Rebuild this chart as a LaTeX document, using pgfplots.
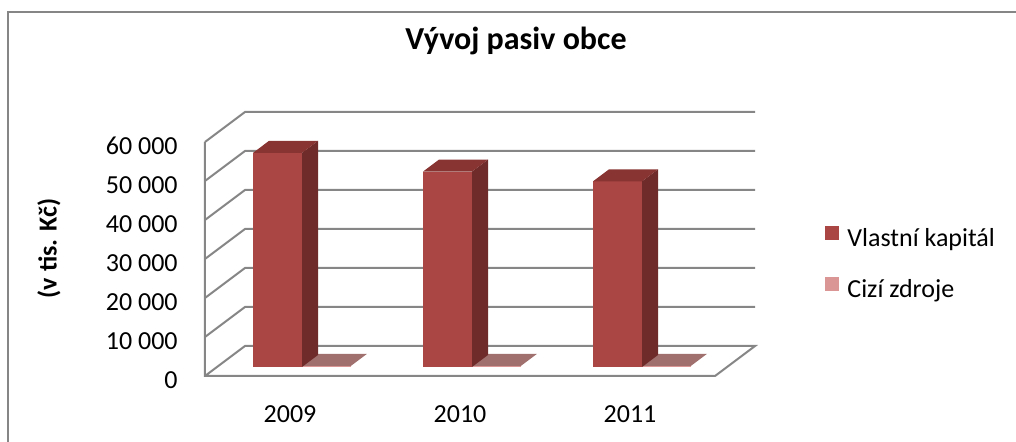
\documentclass[border=0pt]{standalone}
\usepackage{pgfplots}
\usepackage{pgfplotstable}
\pgfplotsset{compat=1.18}
\usepackage{fontspec}
\setmainfont{Carlito}
\definecolor{vkfront}{RGB}{170,70,67}
\definecolor{vkside}{RGB}{110,43,41}
\definecolor{vktop}{RGB}{135,52,50}
\definecolor{czfront}{RGB}{217,150,148}
\definecolor{cztop}{RGB}{160,112,110}
\definecolor{gridc}{RGB}{134,134,134}

\pgfplotstableread{
idx year vk cz
0 2009 54900 300
1 2010 50100 300
2 2011 47600 300
}\datatable

\begin{document}
\begin{tikzpicture}
\useasboundingbox (-102.5pt,-33pt) rectangle (405.5pt,188pt);
\draw[gridc, line width=1pt] (-98.5pt,-40pt) -- (-98.5pt,182pt) -- (410pt,182pt);
\begin{axis}[
  at={(0pt,0pt)}, anchor=south west,
  scale only axis, width=275pt, height=132pt,
  xmin=-0.5, xmax=2.7353, ymin=0, ymax=67692,
  enlargelimits=false, clip=false,
  scaled y ticks=false,
  axis line style={draw=none}, major tick length=0pt,
  xtick={0,1,2}, xticklabels={2009,2010,2011},
  ytick={0,10000,20000,30000,40000,50000,60000},
  yticklabels={0,10\ 000,20\ 000,30\ 000,40\ 000,50\ 000,60\ 000},
  /pgf/number format/assume math mode=true,
  tick label style={font=\fontsize{13}{15}\selectfont},
  xticklabel style={anchor=north, inner sep=0pt, yshift=-14.5pt},
  yticklabel style={anchor=east, inner sep=0pt, xshift=-13.5pt, yshift=-2pt},
  title={Vývoj pasiv obce},
  title style={at={(axis description cs:0.5655,1.1894)}, anchor=base, inner sep=0pt, font=\bfseries\fontsize{16}{19}\selectfont},
  ylabel={(v tis. Kč)},
  ylabel style={at={(axis description cs:-0.2836,0.483)}, anchor=center, inner sep=0pt, font=\bfseries\fontsize{13}{15}\selectfont},
  legend image code/.code={\fill[#1] (0pt,0pt) rectangle (7pt,7pt);},
  legend style={at={(axis description cs:1.1273,0.568)}, anchor=north west, draw=none, fill=none,
    inner sep=0pt, column sep=4pt, row sep=12.5pt,
    nodes={inner sep=0pt, text height=9pt, text depth=3pt},
    font=\fontsize{13}{15}\selectfont},
  legend cell align=left,
]
% back wall, left wall and floor
\addplot[gridc, line width=1pt, forget plot] coordinates {(-0.5,0) (-0.2647,7692) (2.7353,7692) (2.5,0) (-0.5,0) (-0.5,60000)};
\addplot[gridc, line width=1pt, forget plot] coordinates {(-0.5,10000) (-0.2647,17692) (2.7353,17692)};
\addplot[gridc, line width=1pt, forget plot] coordinates {(-0.5,20000) (-0.2647,27692) (2.7353,27692)};
\addplot[gridc, line width=1pt, forget plot] coordinates {(-0.5,30000) (-0.2647,37692) (2.7353,37692)};
\addplot[gridc, line width=1pt, forget plot] coordinates {(-0.5,40000) (-0.2647,47692) (2.7353,47692)};
\addplot[gridc, line width=1pt, forget plot] coordinates {(-0.5,50000) (-0.2647,57692) (2.7353,57692)};
\addplot[gridc, line width=1pt, forget plot] coordinates {(-0.5,60000) (-0.2647,67692) (2.7353,67692)};
% bars
\pgfplotsforeachungrouped \i in {0,1,2}{%
  \pgfplotstablegetelem{\i}{vk}\of\datatable \let\vkval\pgfplotsretval
  \pgfplotstablegetelem{\i}{cz}\of\datatable \let\czval\pgfplotsretval
  \pgfmathsetmacro\xa{\i-0.2176}%
  \pgfmathsetmacro\xb{\i+0.0706}%
  \pgfmathsetmacro\xc{\i+0.1647}%
  \pgfmathsetmacro\xd{\i-0.1235}%
  \pgfmathsetmacro\xe{\i+0.3588}%
  \pgfmathsetmacro\xf{\i+0.4529}%
  \edef\ya{\the\numexpr\vkval+2308\relax}%
  \edef\yb{\the\numexpr\vkval+5385\relax}%
  \edef\yc{\the\numexpr\czval+2308\relax}%
  \edef\yd{\the\numexpr\czval+5385\relax}%
  \edef\doplots{%
    \noexpand\addplot[fill=cztop, draw=none, forget plot] coordinates {(\xb,\yc) (\xe,\yc) (\xf,\yd) (\xc,\yd)};
    \noexpand\addplot[fill=czfront, draw=none, forget plot] coordinates {(\xb,2308) (\xe,2308) (\xe,\yc) (\xb,\yc)};
    \noexpand\addplot[fill=vkfront, draw=none, forget plot] coordinates {(\xa,2308) (\xb,2308) (\xb,\ya) (\xa,\ya)};
    \noexpand\addplot[fill=vkside, draw=none, forget plot] coordinates {(\xb,2308) (\xc,5385) (\xc,\yb) (\xb,\ya)};
    \noexpand\addplot[fill=vktop, draw=none, forget plot] coordinates {(\xa,\ya) (\xb,\ya) (\xc,\yb) (\xd,\yb)};
  }\doplots
}
\addlegendimage{fill=vkfront, draw=none}
\addlegendentry{Vlastní kapitál}
\addlegendimage{fill=czfront, draw=none}
\addlegendentry{Cizí zdroje}
\end{axis}
\end{tikzpicture}
\end{document}
